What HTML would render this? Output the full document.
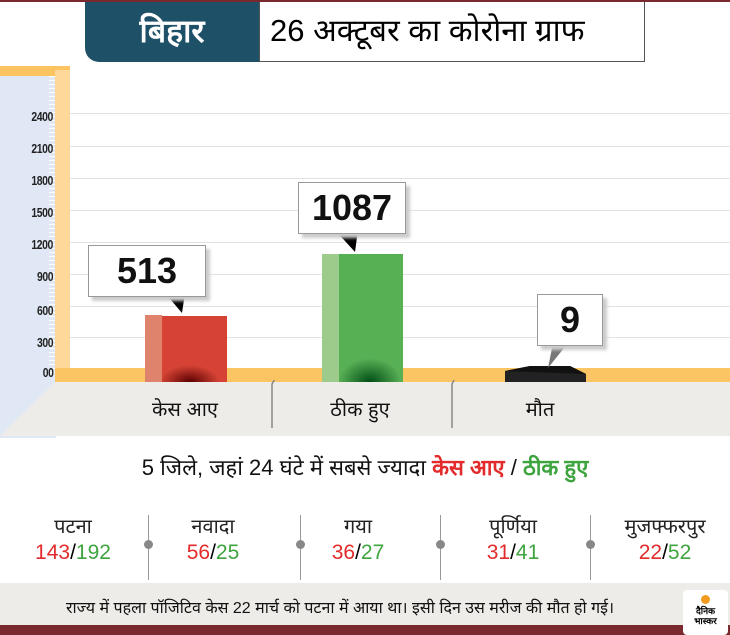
<!DOCTYPE html>
<html><head><meta charset="utf-8"><style>
body{margin:0;width:730px;height:635px;position:relative;overflow:hidden;background:#fff;font-family:"Liberation Sans","Noto Sans CJK SC",sans-serif}
.a{position:absolute}
.tk{position:absolute;right:677px;font:bold 13px "Liberation Sans",sans-serif;color:#222;letter-spacing:-0.5px;transform:scaleX(0.8);transform-origin:right}
.g{position:absolute;left:70px;right:0;height:1px;background:#e2e2e2}
.call{position:absolute;background:#fff;border:1px solid #999;box-shadow:4px 4px 3px #ccc;font:bold 36px "Liberation Sans",sans-serif;text-align:center;color:#111}
.cat{position:absolute;top:395px;font-size:20px;color:#111;text-align:center;width:160px}
.dn{position:absolute;top:512px;width:150px;text-align:center;font-size:20px;color:#222}
.dnum{position:absolute;top:541px;width:150px;text-align:center;font-size:21px}
.r{color:#e32b2b}.gr{color:#3ea43e}
.sep{position:absolute;top:515px;width:1px;height:65px;background:#999}
.dot{position:absolute;top:540px;width:9px;height:9px;border-radius:50%;background:#888}
</style></head><body>
<div class="a" style="left:0;top:0;width:730px;height:2px;background:#7a2a2e"></div>
<div class="a" style="left:85px;top:2px;width:174px;height:60px;background:#1e5168;border-bottom-left-radius:14px;color:#fff;font-size:32px;font-weight:bold;text-align:center;line-height:58px">बिहार</div>
<div class="a" style="left:259px;top:2px;border:1px solid #555;border-top:none;font-size:31px;line-height:58px;padding-left:10px;box-sizing:border-box;width:386px;height:60px">26 अक्टूबर का कोरोना ग्राफ</div>
<div class="a" style="left:0;top:66px;width:56px;height:372px;background:#dfe8f4"></div>
<div class="a" style="left:0;top:66px;width:70px;height:10px;background:#fcc460"></div>
<div class="a" style="left:55px;top:70px;width:15px;height:300px;background:#fdd89a"></div>
<div class="a" style="left:49px;top:76px;width:6px;height:300px;background:repeating-linear-gradient(#fff 0 1px,transparent 1px 4px)"></div>
<div class="tk" style="top:109px">2400</div>
<div class="tk" style="top:141px">2100</div>
<div class="tk" style="top:173px">1800</div>
<div class="tk" style="top:205px">1500</div>
<div class="tk" style="top:237px">1200</div>
<div class="tk" style="top:269px">900</div>
<div class="tk" style="top:303px">600</div>
<div class="tk" style="top:335px">300</div>
<div class="tk" style="top:365px">00</div>
<div class="g" style="top:113px"></div><div class="g" style="top:146px"></div><div class="g" style="top:178px"></div>
<div class="g" style="top:210px"></div><div class="g" style="top:242px"></div><div class="g" style="top:274px"></div>
<div class="g" style="top:306px"></div><div class="g" style="top:337px"></div>
<div class="a" style="left:55px;top:368px;width:675px;height:14px;background:#fcc563"></div>
<svg class="a" style="left:0;top:380px" width="730" height="60"><polygon points="55,2 730,2 730,56 0,56" fill="#eeece8"/><polygon points="0,56 55,2 0,2" fill="#dfe8f4"/>
<polyline points="279,-8 272,4 272,48" stroke="#888" fill="none" stroke-width="1.5"/><polyline points="458,-8 452,4 452,48" stroke="#888" fill="none" stroke-width="1.5"/></svg>
<div class="a" style="left:145px;top:315px;width:17px;height:67px;background:#e0836c"></div>
<div class="a" style="left:162px;top:316px;width:65px;height:66px;background:#d64335"></div>
<div class="a" style="left:160px;top:365px;width:60px;height:17px;background:radial-gradient(ellipse at 50% 100%,#5a0000,transparent 70%)"></div>
<div class="a" style="left:322px;top:254px;width:17px;height:128px;background:#9ccb8c"></div>
<div class="a" style="left:339px;top:254px;width:64px;height:128px;background:#58b055"></div>
<div class="a" style="left:338px;top:358px;width:64px;height:24px;background:radial-gradient(ellipse at 50% 100%,#004d15,transparent 70%)"></div>
<svg class="a" style="left:500px;top:365px" width="90" height="18"><polygon points="5,6 30,1 70,1 86,9 86,17 5,17" fill="#222"/><polygon points="5,6 30,1 70,1 86,9" fill="#111"/></svg>
<svg class="a" style="left:0;top:0" width="730" height="400">
<polygon points="165,293 185,293 182,313" fill="#000"/>
<polygon points="335,230 358,230 355,252" fill="#000"/>
<polygon points="553,343 568,343 548,368" fill="#777"/></svg>
<div class="call" style="left:88px;top:245px;width:116px;height:50px;line-height:50px">513</div>
<div class="call" style="left:298px;top:182px;width:106px;height:50px;line-height:50px">1087</div>
<div class="call" style="left:537px;top:294px;width:64px;height:50px;line-height:50px">9</div>
<div class="cat" style="left:105px">केस आए</div>
<div class="cat" style="left:280px">ठीक हुए</div>
<div class="cat" style="left:460px">मौत</div>
<div class="a" style="left:0;width:730px;top:452px;text-align:center;font-size:22px;color:#111">5 जिले, जहां 24 घंटे में सबसे ज्यादा <b class="r">केस आए</b> / <b class="gr">ठीक हुए</b></div>
<div class="dn" style="left:-2px">पटना</div><div class="dnum" style="left:-2px"><span class="r">143</span>/<span class="gr">192</span></div>
<div class="dn" style="left:138px">नवादा</div><div class="dnum" style="left:138px"><span class="r">56</span>/<span class="gr">25</span></div>
<div class="dn" style="left:283px">गया</div><div class="dnum" style="left:283px"><span class="r">36</span>/<span class="gr">27</span></div>
<div class="dn" style="left:438px">पूर्णिया</div><div class="dnum" style="left:438px"><span class="r">31</span>/<span class="gr">41</span></div>
<div class="dn" style="left:590px">मुजफ्फरपुर</div><div class="dnum" style="left:590px"><span class="r">22</span>/<span class="gr">52</span></div>
<div class="sep" style="left:148px"></div><div class="dot" style="left:144px"></div>
<div class="sep" style="left:300px"></div><div class="dot" style="left:296px"></div>
<div class="sep" style="left:440px"></div><div class="dot" style="left:436px"></div>
<div class="sep" style="left:590px"></div><div class="dot" style="left:586px"></div>
<div class="a" style="left:0;top:583px;width:730px;height:43px;background:#eeece8"></div>
<div class="a" style="left:0;top:596px;width:730px;text-align:center;font-size:16px;color:#111;padding-right:50px;box-sizing:border-box">राज्य में पहला पॉजिटिव केस 22 मार्च को पटना में आया था। इसी दिन उस मरीज की मौत हो गई।</div>
<div class="a" style="left:0;top:625px;width:730px;height:10px;background:#7a2a2e"></div>
<div class="a" style="left:683px;top:590px;width:45px;height:45px;background:#fff;border-radius:4px;font-size:9px;font-weight:bold;text-align:center;line-height:10px"><div style="width:9px;height:9px;border-radius:50%;background:#f39a1f;margin:5px auto 2px"></div>दैनिक<br>भास्कर</div>
</body></html>
